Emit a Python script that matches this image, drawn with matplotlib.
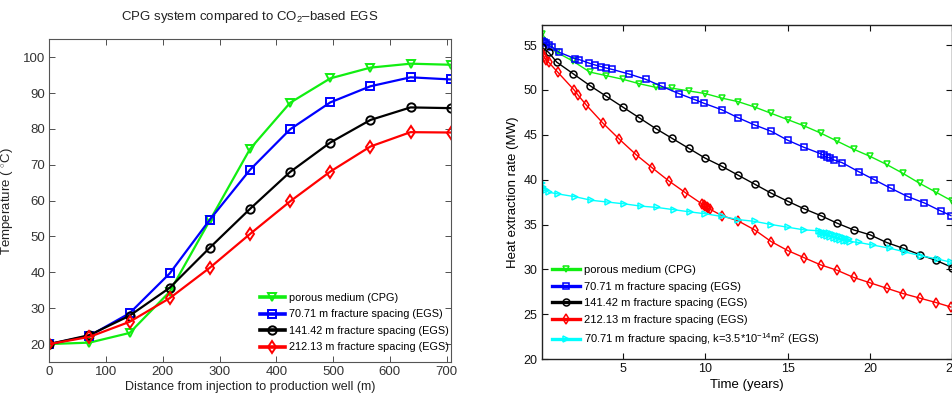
import matplotlib
matplotlib.use("Agg")
import matplotlib.pyplot as plt
from matplotlib import font_manager

names = {f.name for f in font_manager.fontManager.ttflist}
FAM = 'Liberation Sans Narrow' if 'Liberation Sans Narrow' in names else 'Liberation Sans'
plt.rcParams['font.family'] = [FAM, 'Liberation Sans', 'DejaVu Sans']
plt.rcParams['mathtext.fontset'] = 'custom'
plt.rcParams['mathtext.rm'] = 'Liberation Sans'
plt.rcParams['mathtext.it'] = 'Liberation Sans:italic'

# ---------------- Left panel data ----------------
distance = [0, 70.71, 141.42, 212.13, 282.84, 353.55, 424.26, 494.97, 565.68, 636.39, 707.1]
temp_cpg = [20.0, 20.4, 23.1, 34.6, 54.5, 74.4, 87.3, 94.1, 97.1, 98.2, 97.9]
temp_70 = [20.0, 22.3, 28.6, 39.7, 54.7, 68.6, 79.9, 87.4, 91.9, 94.4, 93.8]
temp_141 = [20.0, 22.5, 27.9, 35.7, 46.9, 57.7, 68.0, 76.2, 82.5, 86.0, 85.8]
temp_212 = [20.0, 22.0, 26.2, 32.8, 41.3, 50.7, 59.8, 68.1, 75.1, 79.1, 79.0]

left_labels = ['porous medium (CPG)', '70.71 m fracture spacing (EGS)',
               '141.42 m fracture spacing (EGS)', '212.13 m fracture spacing (EGS)']

# ---------------- Right panel data ----------------
t_cpg = [0.083, 1, 2, 3, 4, 5, 6, 7, 8, 9, 10, 11, 12, 13, 14, 15, 16, 17, 18, 19, 20,
         21, 22, 23, 24, 25]
q_cpg = [56.3, 54.2, 53.2, 52.0, 51.6, 51.2, 50.7, 50.3, 50.2, 49.9, 49.6, 49.1, 48.7,
         48.1, 47.4, 46.7, 46.0, 45.2, 44.3, 43.4, 42.6, 41.7, 40.7, 39.6, 38.6, 37.6]

t_70 = [0.083, 0.2, 0.35, 0.5, 0.7, 1.15, 2.1, 2.35, 2.95, 3.3, 3.7, 4.0, 4.35, 5.35,
        6.38, 7.38, 8.4, 9.4, 9.95, 11.0, 12.0, 13.0, 14.0, 15.0, 16.0, 17.0, 17.2,
        17.4, 17.6, 17.8, 18.3, 19.3, 20.25, 21.25, 22.3, 23.3, 24.3, 24.9]
q_70 = [55.5, 55.3, 55.2, 55.0, 54.8, 54.2, 53.5, 53.4, 53.0, 52.8, 52.6, 52.45, 52.3,
        51.8, 51.2, 50.4, 49.6, 48.9, 48.5, 47.8, 46.9, 46.1, 45.4, 44.4, 43.6, 42.9,
        42.7, 42.5, 42.4, 42.2, 41.9, 40.9, 40.0, 39.05, 38.1, 37.4, 36.5, 36.0]

t_141 = [0.083, 0.5, 1, 2, 3, 4, 5, 6, 7, 8, 9, 10, 11, 12, 13, 14, 15, 16, 17, 18,
         19, 20, 21, 22, 23, 24, 25]
q_141 = [54.8, 54.2, 53.1, 51.8, 50.5, 49.3, 48.1, 46.9, 45.7, 44.6, 43.5, 42.4, 41.5,
         40.5, 39.5, 38.5, 37.6, 36.75, 36.0, 35.15, 34.4, 33.85, 33.0, 32.35, 31.65,
         31.0, 30.2]

t_212 = [0.083, 0.2, 0.35, 0.5, 1.05, 2.05, 2.3, 2.8, 3.8, 4.8, 5.8, 6.8, 7.8, 8.8, 9.8,
         9.9, 10.0, 10.1, 10.2, 10.3, 11.0, 12.0, 13.0, 14.0, 15.0, 16.0, 17.0, 18.0,
         19.0, 20.0, 21.0, 22.0, 23.0, 24.0, 24.9]
q_212 = [54.1, 53.7, 53.4, 53.1, 52.0, 50.0, 49.4, 48.3, 46.3, 44.5, 42.8, 41.3, 39.85,
         38.55, 37.3, 37.2, 37.05, 36.9, 36.8, 36.7, 36.0, 35.4, 34.4, 33.1, 32.1, 31.3,
         30.5, 29.9, 29.1, 28.5, 27.9, 27.3, 26.8, 26.3, 25.8]

t_70k = [0.083, 0.15, 0.25, 0.35, 0.5, 1.1, 2.1, 3.1, 4.1, 5.1, 6.1, 7.1, 8.1, 9.1, 10.0,
         11.0, 12.0, 13.0, 14.0, 15.0, 16.0, 16.9, 17.0, 17.1, 17.2, 17.3, 17.4, 17.5,
         17.6, 17.7, 17.8, 17.9, 18.0, 18.1, 18.2, 18.3, 18.4, 18.5, 18.6, 18.7, 18.8,
         19.3, 20.2, 21.2, 22.1, 23.1, 24.1, 24.9]
q_70k = [39.6, 39.2, 39.0, 38.8, 38.6, 38.4, 38.1, 37.7, 37.5, 37.3, 37.05, 36.9, 36.65,
         36.4, 36.2, 35.9, 35.55, 35.35, 35.0, 34.7, 34.4, 34.3, 33.9, 34.2, 33.8, 34.1,
         33.7, 34.0, 33.6, 33.9, 33.5, 33.8, 33.4, 33.7, 33.3, 33.6, 33.2, 33.5, 33.2,
         33.4, 33.1, 33.0, 32.7, 32.35, 31.95, 31.5, 31.15, 30.8]

right_labels = ['porous medium (CPG)', '70.71 m fracture spacing (EGS)',
                '141.42 m fracture spacing (EGS)', '212.13 m fracture spacing (EGS)',
                '70.71 m fracture spacing, k=3.5*10$^{-14}$m$^{2}$ (EGS)']

GREEN = '#11ee11'
BLUE = '#0000ff'
BLACK = '#000000'
RED = '#ff0000'
CYAN = '#00ffff'

fig = plt.figure(figsize=(9.52, 4.01), dpi=100)

# ---------------- Left axes ----------------
axL = fig.add_axes([0.0518, 0.0973, 0.4216, 0.8047])
styles = [(temp_cpg, GREEN, 'v'), (temp_70, BLUE, 's'), (temp_141, BLACK, 'o'), (temp_212, RED, 'd')]
for (vals, c, m), lab in zip(styles, left_labels):
    axL.plot(distance, vals, color=c, marker=m, lw=1.6, ms=6, mew=1.4,
             markerfacecolor='none', label=lab)
axL.set_xlim(0, 707.1)
axL.set_ylim(15, 105)
axL.set_xticks(range(0, 701, 100))
axL.set_yticks(range(20, 101, 10))
axL.tick_params(direction='in', top=True, right=True, labelsize=9.5, length=4, width=0.6,
                colors='#333333', pad=3)
for s in axL.spines.values():
    s.set_color('#555555'); s.set_linewidth(0.8)
axL.set_title('CPG system compared to CO$_2$–based EGS', fontsize=9.5, pad=14, color='#222222')
axL.set_xlabel('Distance from injection to production well (m)', fontsize=9, labelpad=2, color='#222222')
axL.set_ylabel('Temperature ( $^{\\circ}$C)', fontsize=9.5, labelpad=5, color='#222222')
legL = axL.legend(loc='lower left', bbox_to_anchor=(0.525, 0.03), frameon=False, fontsize=7.8,
                  numpoints=1, handlelength=2.3, handletextpad=0.35, labelspacing=0.6,
                  borderpad=0, borderaxespad=0)
for ln in legL.get_lines():
    ln.set_linewidth(2.6)

# ---------------- Right axes ----------------
axR = fig.add_axes([0.569, 0.1047, 0.4315, 0.833])
rstyles = [(t_cpg, q_cpg, GREEN, 'v'), (t_70, q_70, BLUE, 's'), (t_141, q_141, BLACK, 'o'),
           (t_212, q_212, RED, 'd'), (t_70k, q_70k, CYAN, '>')]
for (tt, qq, c, m), lab in zip(rstyles, right_labels):
    axR.plot(tt, qq, color=c, marker=m, lw=1.0, ms=5, mew=1.1,
             markerfacecolor='none', label=lab)
axR.set_xlim(0.083, 25)
axR.set_ylim(20, 57.25)
axR.set_xticks([5, 10, 15, 20, 25])
axR.set_yticks(range(20, 56, 5))
axR.tick_params(direction='in', top=True, right=True, labelsize=9, length=4, width=0.8,
                colors='#111111', pad=3)
for s in axR.spines.values():
    s.set_color('#222222'); s.set_linewidth(1.0)
axR.set_xlabel('Time (years)', fontsize=9.5, labelpad=3)
axR.set_ylabel('Heat extraction rate (MW)', fontsize=9.5, labelpad=3)
legR = axR.legend(loc='lower left', bbox_to_anchor=(0.024, 0.035), frameon=False, fontsize=8,
                  numpoints=1, handlelength=2.6, handletextpad=0.3, labelspacing=0.6,
                  borderpad=0, borderaxespad=0)
for ln in legR.get_lines():
    ln.set_linewidth(2.4)

fig.savefig('out.png', dpi=100)
